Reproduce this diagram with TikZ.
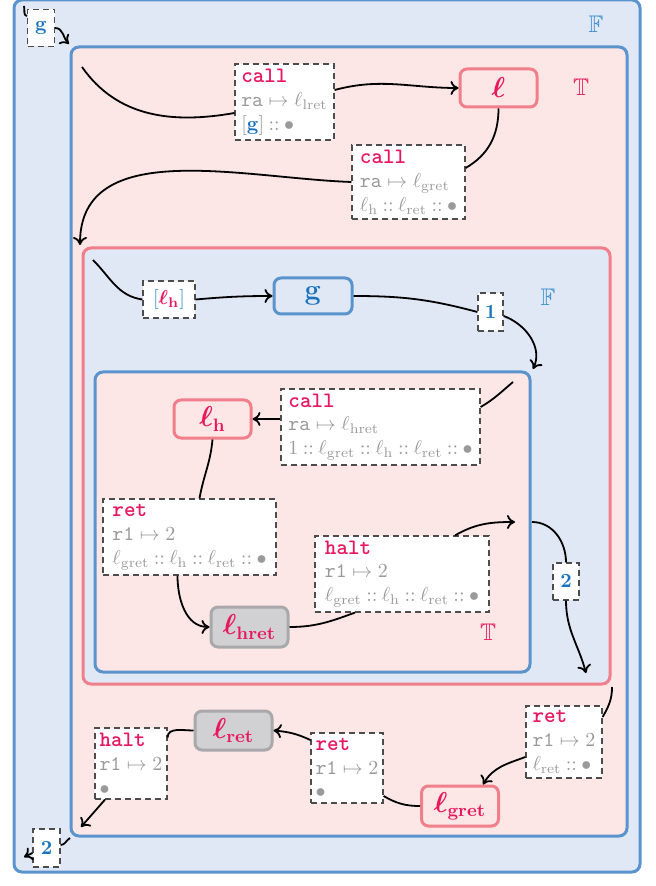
\documentclass[tikz,border=0pt]{standalone}
\usepackage{amsmath,amssymb,bm}
\usetikzlibrary{arrows.meta}
\definecolor{blueB}{HTML}{5B93CC}
\definecolor{blueF}{HTML}{E0E7F5}
\definecolor{pinkF}{HTML}{FCE6E6}
\definecolor{pinkB}{HTML}{F17F8B}
\definecolor{mag}{HTML}{E8185D}
\definecolor{blueT}{HTML}{1A73BE}
\definecolor{blueL}{HTML}{3B8FD0}
\definecolor{grayT}{HTML}{9A9A9A}
\definecolor{grayF}{HTML}{D1D1D3}
\definecolor{grayB}{HTML}{A9A9AB}
\newcommand{\instr}[1]{{\ttfamily\bfseries\fontsize{11}{11}\selectfont\color{mag}#1}}
\newcommand{\cns}{\mathbin{::}}
\newcommand{\lb}[1]{\boldsymbol{\ell}_{\mathbf{#1}}}
\tikzset{
  cont/.style={line width=1.5pt, rounded corners=4pt},
  txtbox/.style={draw=black!70, dashed, dash pattern=on 3pt off 2pt, line width=0.6pt, fill=white, align=left, inner sep=2pt, font=\fontsize{10.4}{11.9}\selectfont},
  lblfont/.style={font=\fontsize{13.5}{15}\selectfont},
  pnode/.style={lblfont, draw=pinkB, line width=1.5pt, rounded corners=3.5pt, fill=pinkF, text=mag, minimum width=38.5pt, minimum height=19pt, inner sep=1pt},
  bnode/.style={lblfont, draw=blueB, line width=1.5pt, rounded corners=3.5pt, fill=blueF, text=blueT, minimum width=38.5pt, minimum height=18pt, inner sep=1pt},
  gnode/.style={lblfont, draw=grayB, line width=1.5pt, rounded corners=3.5pt, fill=grayF, text=mag, minimum width=38.5pt, minimum height=20pt, inner sep=1pt},
  smallbox/.style={draw=black!70, dashed, dash pattern=on 3pt off 2pt, line width=0.6pt, fill=white, text=blueT, inner sep=1pt},
  edge/.style={line width=0.9pt},
  arr/.style={line width=0.9pt, -{To[length=4pt,width=7pt]}}
}
\begin{document}
\begin{tikzpicture}[x=0.5pt,y=-0.5pt]
\useasboundingbox (0,0) rectangle (656,886);
% containers
\draw[cont, draw=blueB, fill=blueF] (14,0) rectangle (640,872);
\draw[cont, draw=blueB, fill=pinkF] (71,47) rectangle (627,836);
\draw[cont, draw=pinkB, fill=blueF] (83,248) rectangle (610,684);
\draw[cont, draw=blueB, fill=pinkF] (95,372) rectangle (530,672);
\node[text=blueL, font=\large] (F1) at (596,24) {$\mathbb{F}$};
\node[text=mag, font=\large] (T1) at (581,87) {$\mathbb{T}$};
\node[text=blueL, font=\large] (F2) at (548,297) {$\mathbb{F}$};
\node[text=mag, font=\large] (T2) at (488,632) {$\mathbb{T}$};
% free coordinates
\coordinate (c0) at (24,6);
\coordinate (c1) at (69,44);
\coordinate (c2) at (82,67);
\coordinate (c3) at (80,245);
\coordinate (c4) at (93,260);
\coordinate (c5) at (533,369);
\coordinate (c6) at (513,382);
\coordinate (c7) at (515,522);
\coordinate (c8) at (532,522);
\coordinate (c9) at (586,673);
\coordinate (c10) at (612,687);
\coordinate (c11) at (81,827);
\coordinate (c12) at (70,838);
\coordinate (c13) at (24,857);
% nodes
\node[smallbox, minimum width=13.5pt, minimum height=18.5pt] (gbox) at (41,28) {$\mathbf{g}$};
\node[txtbox, minimum width=49.5pt, minimum height=38pt] (call1) at (284.5,102)
  {\instr{call}\\
   $\color{grayT}\texttt{ra}\mapsto\ell_{\mathrm{lret}}$\\
   $\color{grayT}[\textcolor{blueT}{\mathbf{g}}]\cns\bullet$};
\node[pnode] (l) at (498.5,88) {$\boldsymbol{\ell}$};
\node[txtbox, minimum width=56.5pt, minimum height=37pt] (call2) at (408.5,182)
  {\instr{call}\\
   $\color{grayT}\texttt{ra}\mapsto\ell_{\mathrm{gret}}$\\
   $\color{grayT}\ell_{\mathrm{h}}\cns\ell_{\mathrm{ret}}\cns\bullet$};
\node[smallbox, minimum width=26pt, minimum height=18.5pt] (lhb) at (169,299.5)
  {$\textcolor{blueL}{[}\textcolor{mag}{\lb{h}}\textcolor{blueL}{]}$};
\node[bnode, minimum width=39pt] (g) at (313,296) {$\mathbf{g}$};
\node[smallbox, minimum width=12.5pt, minimum height=19pt] (one) at (490.5,312) {$\mathbf{1}$};
\node[txtbox, minimum width=99.5pt, minimum height=38pt] (call3) at (380.5,427)
  {\instr{call}\\
   $\color{grayT}\texttt{ra}\mapsto\ell_{\mathrm{hret}}$\\
   $\color{grayT}1\cns\ell_{\mathrm{gret}}\cns\ell_{\mathrm{h}}\cns\ell_{\mathrm{ret}}\cns\bullet$};
\node[pnode] (lh) at (212.5,419) {$\lb{h}$};
\node[txtbox, minimum width=86.5pt, minimum height=38pt] (ret1) at (189.5,537)
  {\instr{ret}\\
   $\color{grayT}\texttt{r1}\mapsto 2$\\
   $\color{grayT}\ell_{\mathrm{gret}}\cns\ell_{\mathrm{h}}\cns\ell_{\mathrm{ret}}\cns\bullet$};
\node[gnode] (lhret) at (249.5,627) {$\lb{hret}$};
\node[txtbox, minimum width=87pt, minimum height=38pt] (halt1) at (402,574)
  {\instr{halt}\\
   $\color{grayT}\texttt{r1}\mapsto 2$\\
   $\color{grayT}\ell_{\mathrm{gret}}\cns\ell_{\mathrm{h}}\cns\ell_{\mathrm{ret}}\cns\bullet$};
\node[smallbox, minimum width=13pt, minimum height=18.5pt] (two1) at (566,581.5) {$\mathbf{2}$};
\node[txtbox, minimum width=38pt, minimum height=36pt] (ret2) at (564,742)
  {\instr{ret}\\
   $\color{grayT}\texttt{r1}\mapsto 2$\\
   $\color{grayT}\ell_{\mathrm{ret}}\cns\bullet$};
\node[pnode, minimum height=20pt] (lgret) at (460,806) {$\lb{gret}$};
\node[txtbox, minimum width=36pt, minimum height=35pt] (ret3) at (347,768)
  {\instr{ret}\\
   $\color{grayT}\texttt{r1}\mapsto 2$\\
   $\color{grayT}\bullet$};
\node[gnode, minimum height=19.5pt] (lret) at (233.5,730.5) {$\lb{ret}$};
\node[txtbox, minimum width=36pt, minimum height=35.5pt] (halt2) at (131,763.5)
  {\instr{halt}\\
   $\color{grayT}\texttt{r1}\mapsto 2$\\
   $\color{grayT}\bullet$};
\node[smallbox, minimum width=13.5pt, minimum height=19pt] (two2) at (46.5,848) {$\mathbf{2}$};
% connectors
\draw[edge] (c0) to[out=-75,in=165] (gbox.140);
\draw[arr] (gbox.east) to[out=0,in=135] (c1);
\draw[edge] (c2) to[out=-55,in=190] ([yshift=-5.5pt]call1.west);
\draw[arr] ([yshift=6pt]call1.east) to[out=15,in=180] (l.west);
\draw[edge] (l.south) to[out=-90,in=30] ([yshift=7pt]call2.east);
\draw[arr] (call2.west) to[out=178,in=90] (c3);
\draw[edge] (c4) to[out=-45,in=172] (lhb.west);
\draw[arr] (lhb.east) to[out=5,in=180] (g.west);
\draw[edge] (g.east) to[out=0,in=165] (one.west);
\draw[arr] ([yshift=-2pt]one.east) to[out=-20,in=65] (c5);
\draw[edge] (c6) to[out=-140,in=30] ([yshift=10pt]call3.east);
\draw[arr] ([yshift=4pt]call3.west) -- (lh.east);
\draw[edge] (lh.south) to[out=-95,in=80] ([xshift=5pt]ret1.north);
\draw[arr] ([xshift=-6pt]ret1.south) to[out=-90,in=180] (lhret.west);
\draw[edge] (lhret.east) to[out=0,in=-160] ([xshift=-23.5pt]halt1.south);
\draw[arr] ([xshift=26.5pt]halt1.north) to[out=30,in=180] (c7);
\draw[edge] (c8) to[out=0,in=90] (two1.north);
\draw[arr] (two1.south) to[out=-90,in=105] (c9);
\draw[edge] (c10) to[out=-90,in=60] ([yshift=12.5pt]ret2.east);
\draw[arr] ([yshift=-7.5pt]ret2.west) to[out=-160,in=60] ([xshift=11.5pt]lgret.north);
\draw[edge] (lgret.west) to[out=180,in=-30] ([yshift=-14pt]ret3.east);
\draw[arr] ([yshift=14pt]ret3.west) to[out=155,in=-5] (lret.east);
\draw[edge] (lret.west) to[out=180,in=90] ([yshift=13pt]halt2.east);
\draw[arr] ([xshift=-13pt]halt2.south) -- (c11);
\draw[edge] (c12) to[out=-150,in=0] ([yshift=1.5pt]two2.east);
\draw[arr] ([yshift=-2.5pt]two2.west) -- (c13);
\end{tikzpicture}
\end{document}
